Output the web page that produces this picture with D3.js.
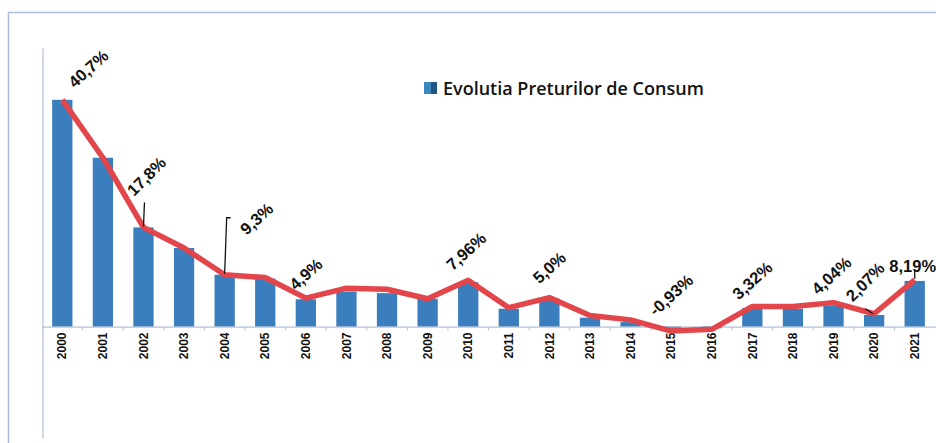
<!DOCTYPE html>
<html lang="ro">
<head>
<meta charset="utf-8">
<title>Evolutia Preturilor de Consum</title>
<script src="https://cdn.jsdelivr.net/npm/d3@7"></script>
<style>
body {margin: 0; background: #fff;}
svg {display: block;}
.bar {fill: #3b7ebd;}
.trend {fill: none; stroke: #e2454a; stroke-width: 5.5; stroke-linejoin: round;}
.lbl {font-family: "Liberation Sans", Arial, sans-serif; font-weight: bold; font-size: 16.5px; fill: #111;}
.xlbl {font-family: "Liberation Sans", Arial, sans-serif; font-weight: bold; font-size: 12px; fill: #111;}
.leader {stroke: #111; stroke-width: 1.3; fill: none;}
</style>
</head>
<body>
<svg width="936" height="443"></svg>
<script>
// ani
var years = ["2000","2001","2002","2003","2004","2005","2006","2007","2008","2009","2010",
             "2011","2012","2013","2014","2015","2016","2017","2018","2019","2020","2021"];
// inflatia anuala (%) - barele
var cpi = [40.7, 30.3, 17.8, 14.1, 9.3, 8.6, 4.9, 6.3, 6.0, 5.0, 7.96,
           3.2, 5.0, 1.6, 0.8, -0.4, -0.3, 3.32, 3.2, 3.8, 2.07, 8.19];
// linia rosie
var trend = [40.7, 30.3, 17.8, 14.1, 9.3, 8.8, 5.1, 6.9, 6.7, 5.0, 8.3,
             3.4, 5.2, 2.0, 1.2, -0.8, -0.5, 3.6, 3.6, 4.3, 2.3, 8.4];
// etichete
var labels = ["40,7%", "", "17,8%", "", "9,3%", "", "4,9%", "", "", "", "7,96%",
              "", "5,0%", "", "", "-0,93%", "", "3,32%", "", "4,04%", "2,07%", "8,19%"];
var legendText = "Evolutia Preturilor de Consum";

var svg = d3.select("svg");
var W = 936, H = 443;

var x = d3.scaleBand().domain(years).range([42, 935]).paddingInner(0.5).paddingOuter(0.25);
var y = d3.scaleLinear().domain([-20, 50]).range([438, 48]);

// cadru
svg.append("path")
  .attr("d", "M8.5," + H + "V12.5H" + W)
  .attr("fill", "none").attr("stroke", "#a9bbe0").attr("stroke-width", 1.5);

// axa y
var yAxis = svg.append("g").attr("transform", "translate(42.5,0)")
  .call(d3.axisLeft(y).tickValues([]).tickSizeOuter(0));
yAxis.select(".domain").attr("stroke", "#a3b2cc");

// bare
svg.selectAll("rect.bar")
  .data(cpi)
  .enter()
  .append("rect")
    .attr("class", "bar")
    .attr("x", function(d, i) { return x(years[i]); })
    .attr("width", x.bandwidth())
    .attr("y", function(d) { return y(Math.max(0, d)); })
    .attr("height", function(d) { return Math.abs(y(d) - y(0)); });

// axa x
var xAxis = svg.append("g").attr("transform", "translate(0," + (y(0) + 0.5) + ")")
  .call(d3.axisBottom(x).tickSize(0).tickPadding(9));
xAxis.select(".domain").attr("stroke", "#9fb0cc").attr("d", "M42.5,0H" + W);
xAxis.selectAll("text")
  .attr("class", "xlbl")
  .attr("text-anchor", "end")
  .attr("dx", "-0.45em")
  .attr("dy", "0.35em")
  .attr("x", 0).attr("y", 0)
  .attr("transform", "rotate(-90)");
// liniute intre categorii
svg.selectAll("line.sep")
  .data(years.slice(1))
  .enter()
  .append("line")
    .attr("x1", function(d) { return x(d) - x.step() * x.paddingInner() / 2; })
    .attr("x2", function(d) { return x(d) - x.step() * x.paddingInner() / 2; })
    .attr("y1", y(0)).attr("y2", y(0) + 4)
    .attr("stroke", "#b5c3da");

// linia rosie
svg.append("path")
  .datum(trend)
  .attr("class", "trend")
  .attr("d", d3.line()
      .x(function(d, i) { return x(years[i]) + x.bandwidth() / 2; })
      .y(function(d) { return y(d); })
  );

// pozitii etichete (dx, dy fata de punct), unghi
var lblPos = {
  "2000": [26, -31, -42], "2002": [3, -51, -45], "2004": [32, -56, -42],
  "2006": [0, -24, -42], "2010": [-2, -29, -42], "2012": [0, -30, -42],
  "2015": [0, -36, -42], "2017": [0, -26, -42], "2019": [-2, -27, -42],
  "2020": [-9, -32, -45], "2021": [-2, -14, 0]
};

var lg = svg.append("g");
years.forEach(function(yr, i) {
  if (!labels[i]) return;
  var p = lblPos[yr];
  var px = x(yr) + x.bandwidth() / 2, py = y(trend[i]);
  lg.append("text")
    .attr("class", "lbl")
    .attr("text-anchor", "middle")
    .attr("dy", "0.35em")
    .attr("transform", "translate(" + (px + p[0]) + "," + (py + p[1]) + ") rotate(" + p[2] + ")")
    .text(labels[i]);
});

// linii de legatura
var lead = function(yr, pts) {
  var px = x(yr) + x.bandwidth() / 2, py = y(trend[years.indexOf(yr)]);
  svg.append("path").attr("class", "leader")
    .attr("d", d3.line()(pts.map(function(q) { return [px + q[0], py + q[1]]; })));
};
lead("2002", [[1, -25], [0, -1]]);
lead("2004", [[6, -57], [2, -57], [0, -1]]);
lead("2020", [[-9, -5], [-1, 0]]);
lead("2021", [[0, -9], [0, -1]]);

// legenda
var leg = svg.append("g").attr("transform", "translate(424,82)");
leg.append("rect").attr("width", 7).attr("height", 12).attr("fill", "#3d87c0");
leg.append("rect").attr("x", 7).attr("width", 6).attr("height", 12).attr("fill", "#1f5684");
leg.append("text")
  .attr("x", 19).attr("y", 12.5)
  .attr("font-family", "'Open Sans', sans-serif")
  .attr("font-size", "18px")
  .attr("font-weight", 600)
  .attr("fill", "#111")
  .text(legendText);
</script>
</body>
</html>
